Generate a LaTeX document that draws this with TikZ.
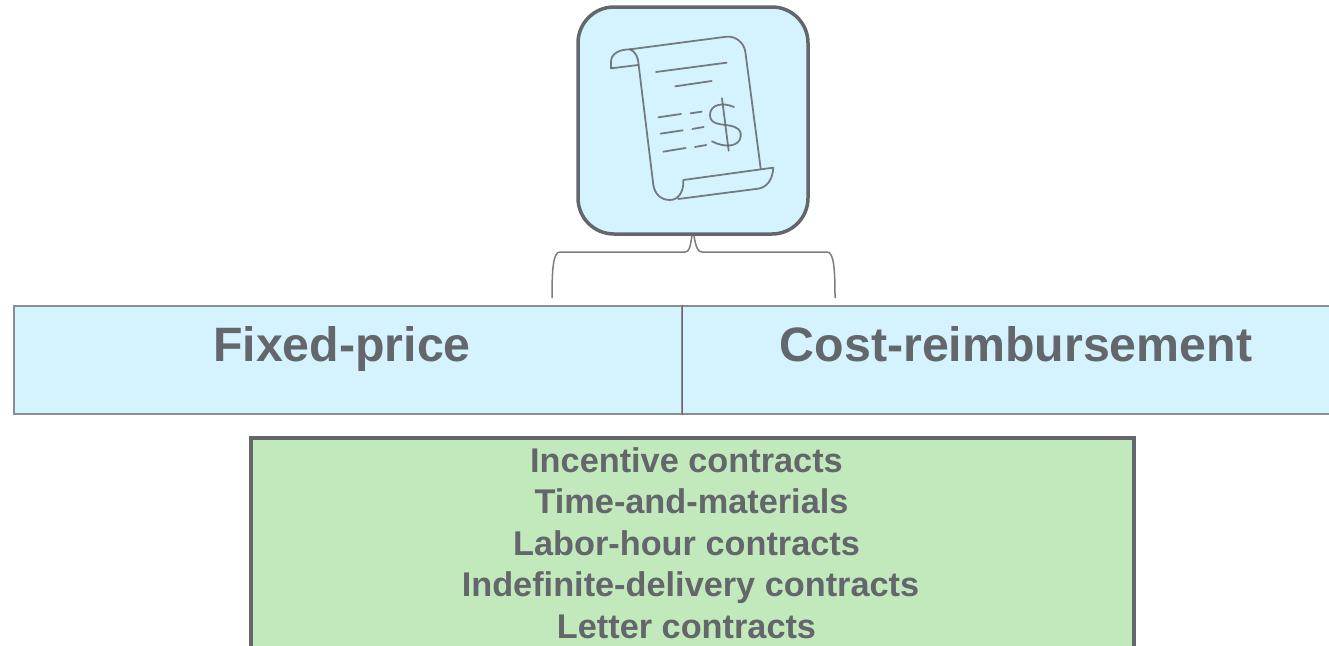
\documentclass[tikz,border=0pt]{standalone}
\usepackage{fontspec}
\setmainfont{Liberation Sans}
\usepackage{xcolor}
\definecolor{mygray}{HTML}{63666A}
\definecolor{myblue}{HTML}{D5F3FF}
\definecolor{mygreen}{HTML}{C2E9BC}

\begin{document}
\begin{tikzpicture}[x=1pt, y=-1pt]
  \tikzstyle{myline}=[mygray, line cap=round, line join=round];
  \useasboundingbox (0, 0) rectangle (1329, 645);
  \clip (0, 0) rectangle (1329, 645);
  %
  % icon box
  \tikzstyle{icon}=[draw=mygray, line width=3.5pt, fill=myblue, rounded corners=36pt, inner sep=0pt];
  \node[icon, minimum width=230pt, minimum height=227pt] (icon) at (693, 120.5) {};
  %
  % scroll
  \tikzstyle{scroll}=[myline, opacity=0.85, line width=1.8pt];
  \begin{scope}[shift={(570, 0)}, x=0.3333pt, y=-0.3333pt]
    \draw[scroll] (123, 205) -- (123, 185) .. controls (123, 160) and (150, 148) .. (180, 148)
    -- (470, 110) .. controls (500, 108) and (522, 130) .. (526, 155) -- (572, 505);
    \draw[scroll] (123, 205) -- (205, 195);
    \draw[scroll] (180, 148) .. controls (198, 155) and (205, 175) .. (206, 195)
    -- (250, 555) .. controls (255, 585) and (275, 600) .. (300, 600)
    .. controls (325, 600) and (342, 575) .. (340, 540) -- (610, 503)
    .. controls (608, 540) and (590, 562) .. (565, 566) -- (325, 597);
    % text lines
    \draw[scroll] (258, 216) -- (470, 188);
    \draw[scroll] (316, 259) -- (425, 243);
    \draw[scroll] (265, 352) -- (333, 342);
    \draw[scroll] (362, 340) -- (395, 335);
    \draw[scroll] (272, 401) -- (338, 391);
    \draw[scroll] (367, 387) -- (401, 381);
    \draw[scroll] (280, 455) -- (347, 444);
    \draw[scroll] (375, 441) -- (409, 435);
    % dollar sign
    \draw[scroll] (456, 295) -- (476, 452);
    \draw[scroll] (492, 321) .. controls (455, 305) and (420, 315) .. (420, 345)
    .. controls (420, 375) and (455, 372) .. (480, 377)
    .. controls (505, 382) and (515, 392) .. (512, 410)
    .. controls (508, 440) and (465, 445) .. (426, 424);
  \end{scope}
  %
  % contract types
  \tikzstyle{typebox}=[draw=mygray!75, line width=1.8pt, fill=myblue, inner sep=0pt, minimum height=108pt];
  \tikzstyle{typelabel}=[mygray, anchor=base, inner sep=0pt, font=\bfseries\fontsize{48.3}{52}\selectfont];
  \node[typebox, minimum width=668pt] (fixed) at (348, 360) {};
  \node[typebox, minimum width=668pt] (cost) at (1016, 360) {};
  \draw[mygray, line width=1pt] (fixed.north east) -- (fixed.south east);
  \node[typelabel] (fixedlabel) at (342, 361) {Fixed-price};
  \node[typelabel] (costlabel) at (1016, 361) {Cost-reimbursement};
  %
  % brace
  \tikzstyle{brace}=[mygray!85, line width=1.5pt];
  \coordinate (braceL) at (552, 298);
  \coordinate (braceR) at (835, 298);
  \draw[brace] (braceL) .. controls (552, 270) and (553, 252) .. (560, 252)
  -- (685, 252) .. controls (689, 252) and (690, 248) .. ([xshift=-1pt]icon.south);
  \draw[brace] (braceR) .. controls (835, 270) and (834, 252) .. (827, 252)
  -- (702, 252) .. controls (698, 252) and (696, 248) .. ([xshift=1pt]icon.south);
  %
  % other contracts
  \tikzstyle{other}=[draw=mygray, line width=3.5pt, fill=mygreen, inner sep=0pt];
  \tikzstyle{otherlabel}=[mygray, anchor=base, inner sep=0pt, font=\bfseries\fontsize{34.3}{37}\selectfont];
  \node[other, minimum width=883pt, minimum height=240pt] (others) at (692.5, 558) {};
  \node[otherlabel] (incentive) at (686.5, 472) {Incentive contracts};
  \node[otherlabel] (time) at (691.5, 513.5) {Time-and-materials};
  \node[otherlabel] (labor) at (686.5, 555) {Labor-hour contracts};
  \node[otherlabel] (indefinite) at (690.5, 596) {Indefinite-delivery contracts};
  \node[otherlabel] (letter) at (686.5, 638) {Letter contracts};
\end{tikzpicture}
\end{document}
